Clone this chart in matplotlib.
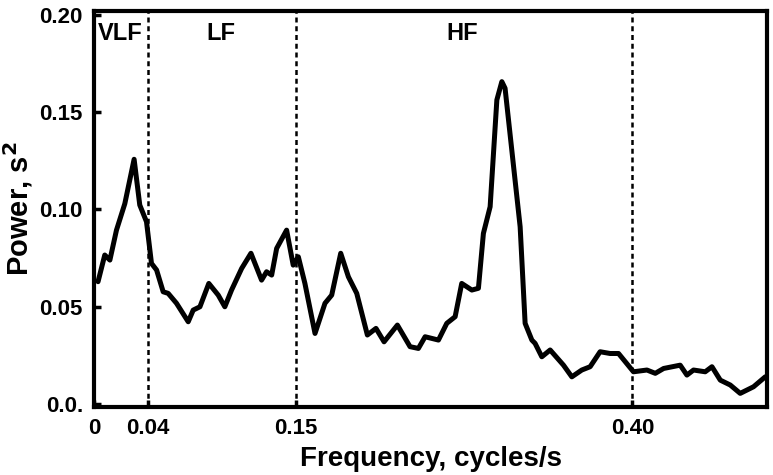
import numpy as np
import matplotlib
matplotlib.use('Agg')
from matplotlib import pyplot as plt

plt.rcParams['font.family'] = ['Liberation Sans', 'DejaVu Sans']
plt.rcParams['font.weight'] = 'bold'

# spectrum
freq = [0.003, 0.008, 0.0118, 0.0167, 0.0229, 0.0298, 0.034, 0.039, 0.0427,
        0.0465, 0.0514, 0.0551, 0.0613, 0.070, 0.0737, 0.0787, 0.0853, 0.0923,
        0.0972, 0.1022, 0.1097, 0.1166, 0.1245, 0.1282, 0.132, 0.1357, 0.1431,
        0.148, 0.1518, 0.1567, 0.1642, 0.1716, 0.1766, 0.1833, 0.189, 0.1952,
        0.2031, 0.2095, 0.2155, 0.2254, 0.2348, 0.241, 0.246, 0.2559, 0.2621,
        0.2683, 0.2732, 0.2807, 0.2856, 0.2893, 0.2943, 0.2993, 0.303, 0.3054,
        0.3166, 0.3203, 0.3253, 0.3277, 0.3327, 0.3389, 0.3488, 0.355, 0.3624,
        0.3686, 0.376, 0.3834, 0.3897, 0.4008, 0.4108, 0.417, 0.4232, 0.4355,
        0.4405, 0.4454, 0.4541, 0.4591, 0.4653, 0.4727, 0.4801, 0.49, 0.4987]
power = [0.0629, 0.0766, 0.074, 0.0894, 0.103, 0.1258, 0.1023, 0.0937, 0.0723,
         0.0689, 0.0577, 0.0569, 0.0518, 0.0423, 0.0483, 0.050, 0.062, 0.056,
         0.050, 0.0586, 0.0697, 0.0775, 0.0637, 0.068, 0.0663, 0.080, 0.0894,
         0.0714, 0.0757, 0.062, 0.0363, 0.0518, 0.056, 0.0775, 0.0654, 0.0569,
         0.0355, 0.0389, 0.032, 0.0406, 0.0295, 0.0286, 0.0346, 0.0329, 0.0415,
         0.0449, 0.062, 0.0586, 0.0595, 0.0877, 0.1014, 0.1563, 0.1657, 0.1623,
         0.0911, 0.0415, 0.0329, 0.0312, 0.0243, 0.0278, 0.020, 0.014, 0.0175,
         0.0192, 0.0269, 0.026, 0.026, 0.0166, 0.0175, 0.0158, 0.0183, 0.020,
         0.0149, 0.0175, 0.0166, 0.0192, 0.0123, 0.0098, 0.0055, 0.0089, 0.014]

bands = [0.04, 0.15, 0.40]
band_names = ['VLF', 'LF', 'HF']
band_centers = [0.0195, 0.0944, 0.2735]
xticks = [0, 0.04, 0.15, 0.40]
xticklabels = ['0', '0.04', '0.15', '0.40']
yticks = [0, 0.05, 0.10, 0.15, 0.20]
yticklabels = ['0.0.', '0.05', '0.10', '0.15', '0.20']

fig = plt.figure(figsize=(7.73, 4.75), dpi=100)
ax = fig.add_axes([94/773, 68/475, 673/773, 396/475])

ax.plot(freq, power, color='black', lw=3.6, solid_joinstyle='round', solid_capstyle='round')
for b in bands:
    ax.axvline(b, color='black', lw=1.8, ls=(0, (2, 1.5)))

for name, c in zip(band_names, band_centers):
    ax.text(c, 0.1905, name, ha='center', va='center', fontsize=17, fontweight='bold')

ax.set_xlim(0, 0.5)
ax.set_ylim(-0.0015, 0.202)
ax.set_xticks(xticks)
ax.set_xticklabels(xticklabels)
ax.set_yticks(yticks)
ax.set_yticklabels(yticklabels)
ax.tick_params(direction='in', length=5, width=2.5, labelsize=16, pad=8)
for s in ax.spines.values():
    s.set_linewidth(3)

ax.set_xlabel('Frequency, cycles/s', fontsize=20, fontweight='bold', labelpad=5)
ax.set_ylabel('Power, s$^\\mathbf{2}$', fontsize=21, fontweight='bold')
ax.yaxis.set_label_coords(-0.088, 0.5)

fig.savefig('out.png', dpi=100)
